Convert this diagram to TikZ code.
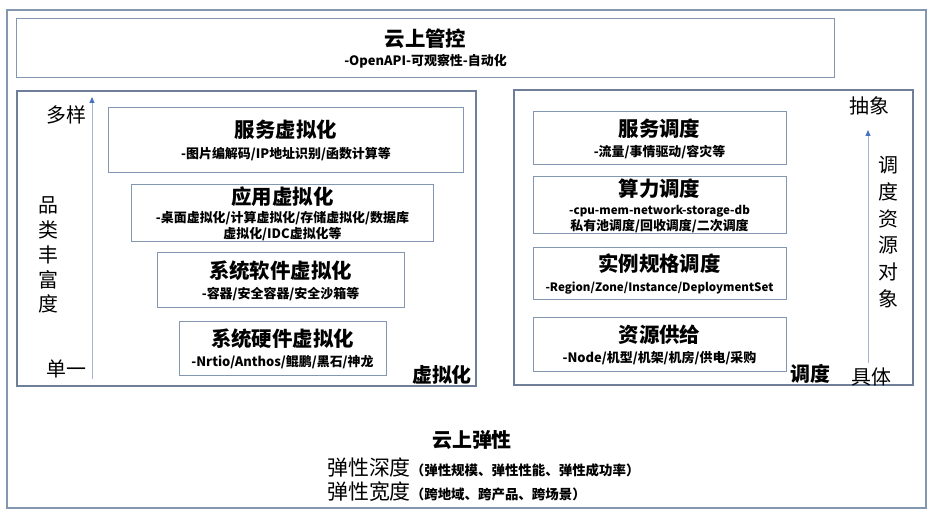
\documentclass[tikz,border=0pt]{standalone}
\usepackage{fontspec}
\setmainfont{Noto Sans CJK SC}
\usetikzlibrary{arrows.meta,positioning}
\definecolor{frame}{HTML}{8497B0}
\definecolor{panelline}{HTML}{6F7F99}
\definecolor{axis}{HTML}{A3B4D0}
\definecolor{axistip}{HTML}{4472C4}
\newcommand{\boxtitle}{\fontsize{20.5}{22}\selectfont\bfseries}
\newcommand{\boxsub}{\fontsize{13}{16}\selectfont\bfseries}
\newcommand{\latinsub}{\fontsize{11.6}{16}\selectfont}
\newcommand{\sidelbl}{\fontsize{20}{25}\selectfont}

\begin{document}
\begin{tikzpicture}[x=1bp,y=-1bp,
  panel/.style={draw=panelline,line width=1.1bp,inner sep=0pt},
  box/.style={draw=frame,line width=1bp,inner sep=0pt,align=center,font=\boxsub},
  lbl/.style={inner sep=0pt,font=\sidelbl,align=center},
  tag/.style={inner sep=0pt,font=\fontsize{20}{24}\selectfont\bfseries},
  axisarrow/.style={draw=axis,line width=0.8bp,-{Triangle[width=5bp,length=6bp,color=axistip]}},
]
  \useasboundingbox (0,0) rectangle (936,520);

  % frames
  \node[panel,draw=frame,minimum width=919bp,minimum height=498bp] (outer) at (466.5,259) {};
  \node[box,minimum width=817bp,minimum height=59bp] (ctl) at (425.5,48.5)
    {{\boxtitle 云上管控}\\[3bp]-OpenAPI-可观察性-自动化};
  \node[panel,minimum width=459bp,minimum height=295bp] (virt) at (246.5,238.5) {};
  \node[panel,minimum width=399bp,minimum height=295bp] (sched) at (713.5,237.5) {};

  % virtualization stack
  \node[box,minimum width=354bp,minimum height=65bp] (svcv) at (286,140.5)
    {{\boxtitle 服务虚拟化}\\[5bp]-图片编解码/IP地址识别/函数计算等};
  \node[box,minimum width=301bp,minimum height=57bp] (appv) at (282.5,213.5)
    {{\boxtitle 应用虚拟化}\\[2bp]-桌面虚拟化/计算虚拟化/存储虚拟化/数据库\\虚拟化/IDC虚拟化等};
  \node[box,minimum width=247bp,minimum height=55bp] (swv) at (280.5,280.5)
    {{\boxtitle 系统软件虚拟化}\\[4bp]-容器/安全容器/安全沙箱等};
  \node[box,minimum width=207bp,minimum height=53bp] (hwv) at (282.5,348.5)
    {{\boxtitle 系统硬件虚拟化}\\[4bp]-Nrtio/Anthos/鲲鹏/黑石/神龙};

  \node[lbl] (many) at (66,115) {多样};
  \node[lbl] (single) at (66,369) {单一};
  \node[lbl] (variety) at (48,255) {品\\类\\丰\\富\\度};
  \coordinate (vlo) at (92,379);
  \coordinate (vhi) at (92,97);
  \draw[axisarrow] (vlo) -- (vhi);
  \node[tag] (virttag) at (442,375) {虚拟化};

  % scheduling stack
  \node[box,minimum width=253bp,minimum height=53bp] (svcs) at (659.5,138.5)
    {{\boxtitle 服务调度}\\[4bp]-流量/事情驱动/容灾等};
  \node[box,minimum width=253bp,minimum height=57bp] (cmps) at (659.5,205.5)
    {{\boxtitle 算力调度}\\[2bp]{\latinsub -cpu-mem-network-storage-db}\\私有池调度/回收调度/二次调度};
  \node[box,minimum width=253bp,minimum height=52bp] (insts) at (659.5,274)
    {{\boxtitle 实例规格调度}\\[4bp]{\latinsub -Region/Zone/Instance/DeploymentSet}};
  \node[box,minimum width=253bp,minimum height=53bp] (supply) at (659.5,344.5)
    {{\boxtitle 资源供给}\\[4bp]-Node/机型/机架/机房/供电/采购};

  \node[lbl] (abstract) at (869,106) {抽象};
  \node[lbl] (concrete) at (871,377) {具体};
  \node[lbl,font=\fontsize{20}{27}\selectfont] (objects) at (888,232) {调\\度\\资\\源\\对\\象};
  \coordinate (slo) at (868,363);
  \coordinate (shi) at (868,130);
  \draw[axisarrow] (slo) -- (shi);
  \node[tag] (schedtag) at (810,374) {调度};

  % elasticity
  \node[tag] (elastic) at (472,440) {云上弹性};
  \node[inner sep=0pt,anchor=west] (depth) at (327,467)
    {\fontsize{21}{24}\selectfont 弹性深度\fontsize{13.5}{16}\selectfont\bfseries（弹性规模、弹性性能、弹性成功率）};
  \node[inner sep=0pt,anchor=west] (breadth) at (327,492)
    {\fontsize{21}{24}\selectfont 弹性宽度\fontsize{13.5}{16}\selectfont\bfseries（跨地域、跨产品、跨场景）};
\end{tikzpicture}
\end{document}
